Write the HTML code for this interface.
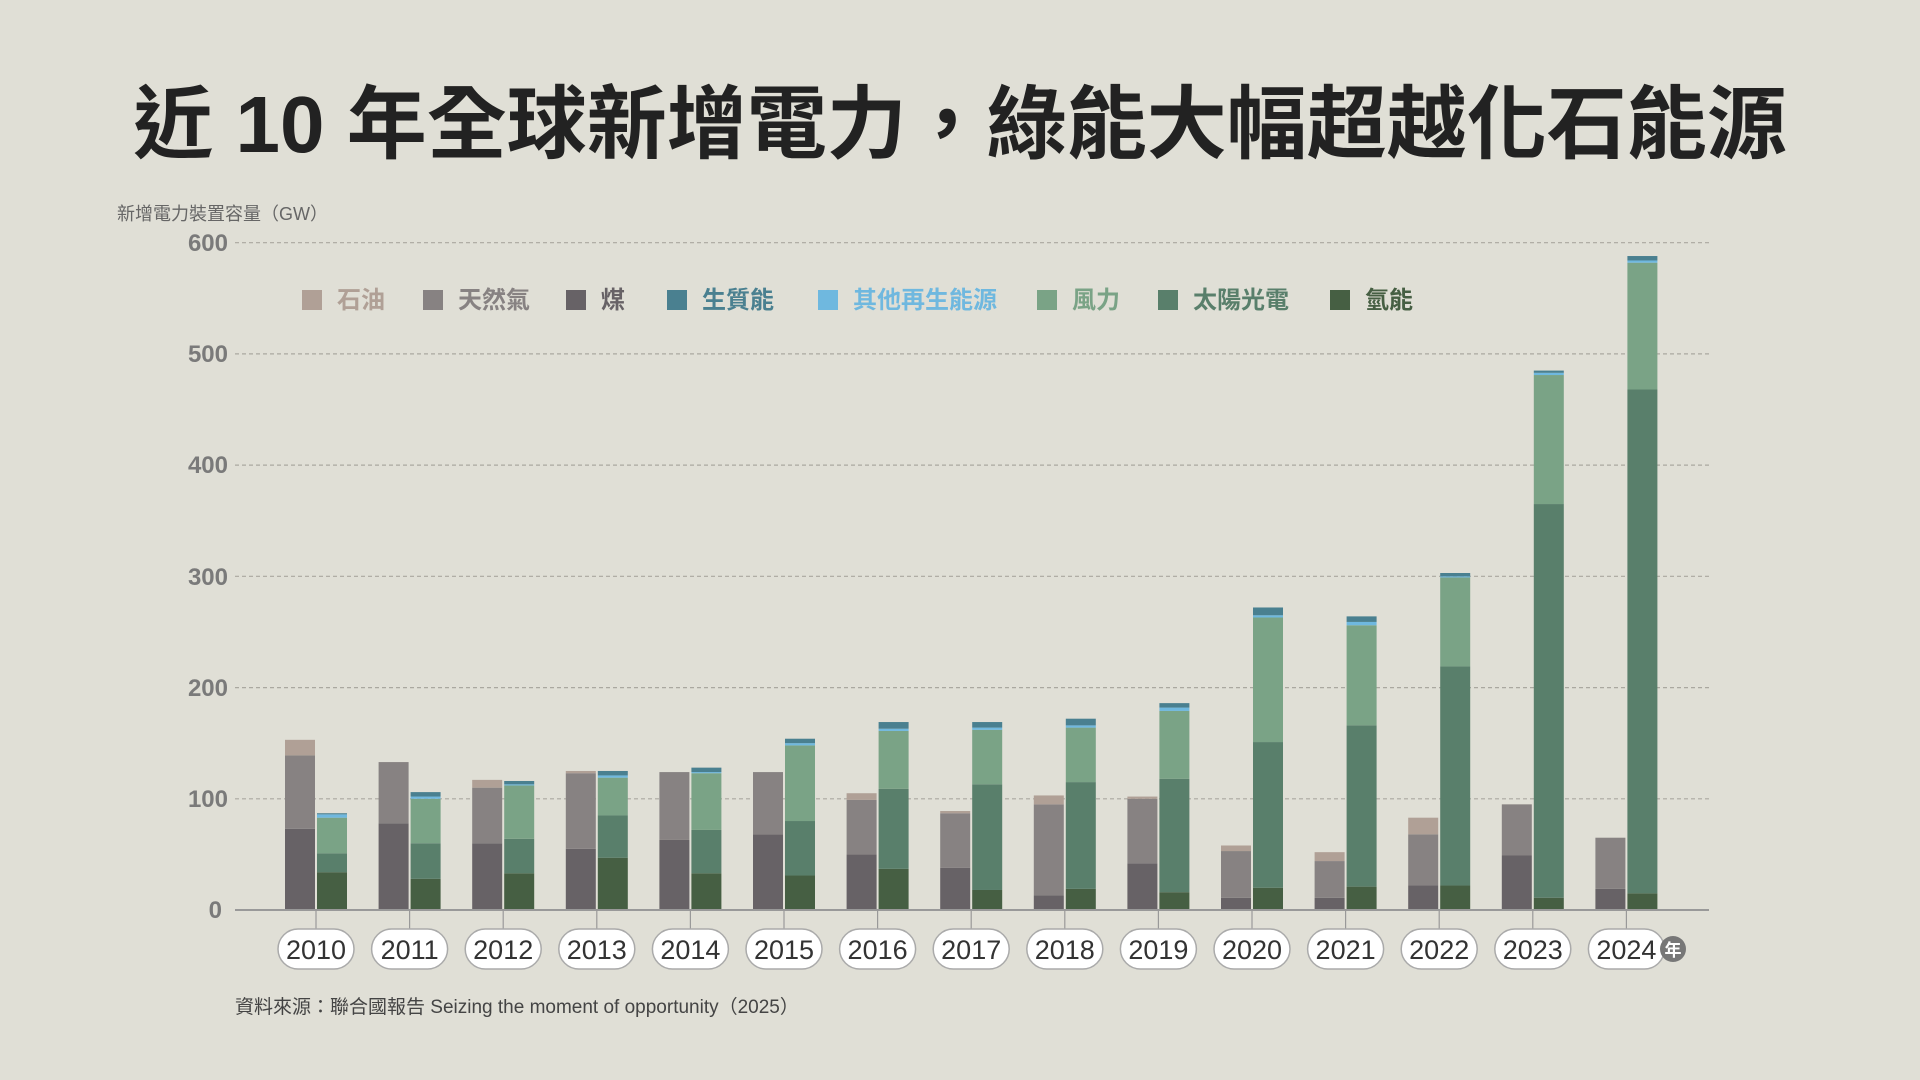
<!DOCTYPE html>
<html><head><meta charset="utf-8"><style>
html,body{margin:0;padding:0;background:#e0dfd6;}
svg{display:block;font-family:"Liberation Sans","Noto Sans CJK TC",sans-serif;}
</style></head><body>
<svg id="s" width="1920" height="1080" viewBox="0 0 1920 1080" xmlns="http://www.w3.org/2000/svg">
<rect width="1920" height="1080" fill="#e0dfd6"/>
<text x="960" y="152" text-anchor="middle" font-size="80" font-weight="bold" fill="#222">近 10 年全球新增電力，綠能大幅超越化石能源</text>
<text x="117" y="220" font-size="18" fill="#666">新增電力裝置容量（GW）</text>
<g stroke="#aaa8a0" stroke-width="1.2" stroke-dasharray="4,3">
<line x1="235" x2="1709" y1="242.7" y2="242.7"/>
<line x1="235" x2="1709" y1="353.9" y2="353.9"/>
<line x1="235" x2="1709" y1="465.1" y2="465.1"/>
<line x1="235" x2="1709" y1="576.3" y2="576.3"/>
<line x1="235" x2="1709" y1="687.6" y2="687.6"/>
<line x1="235" x2="1709" y1="798.8" y2="798.8"/>
</g>
<g font-size="24" font-weight="bold" fill="#7a7a7a" text-anchor="end">
<text x="228" y="251">600</text><text x="228" y="362">500</text><text x="228" y="473">400</text>
<text x="228" y="585">300</text><text x="228" y="696">200</text><text x="228" y="807">100</text><text x="222" y="918">0</text>
</g>
<g font-size="24" font-weight="bold">
<rect x="302" y="290" width="20" height="20" fill="#b0a096"/><text x="337" y="308" fill="#b0a096">石油</text>
<rect x="423" y="290" width="20" height="20" fill="#878282"/><text x="458" y="308" fill="#878282">天然氣</text>
<rect x="566" y="290" width="20" height="20" fill="#676266"/><text x="601" y="308" fill="#676266">煤</text>
<rect x="667" y="290" width="20" height="20" fill="#4a8090"/><text x="702" y="308" fill="#4a8090">生質能</text>
<rect x="818" y="290" width="20" height="20" fill="#6fb8df"/><text x="853" y="308" fill="#6fb8df">其他再生能源</text>
<rect x="1037" y="290" width="20" height="20" fill="#7aa386"/><text x="1072" y="308" fill="#7aa386">風力</text>
<rect x="1158" y="290" width="20" height="20" fill="#597f6b"/><text x="1193" y="308" fill="#597f6b">太陽光電</text>
<rect x="1330" y="290" width="20" height="20" fill="#465f43"/><text x="1365" y="308" fill="#465f43">氫能</text>
</g>
<g id="bars"></g>
<line x1="235" x2="1709" y1="910" y2="910" stroke="#999" stroke-width="2"/>
<g id="ticks" stroke="#999" stroke-width="1.2"></g>
<g id="pills" fill="#fff" stroke="#aaa" stroke-width="1.5"></g>
<g font-size="27" fill="#333" text-anchor="middle">
<text x="316" y="959">2010</text><text x="409.6" y="959">2011</text><text x="503.2" y="959">2012</text>
<text x="596.8" y="959">2013</text><text x="690.4" y="959">2014</text><text x="784" y="959">2015</text>
<text x="877.6" y="959">2016</text><text x="971.2" y="959">2017</text><text x="1064.8" y="959">2018</text>
<text x="1158.4" y="959">2019</text><text x="1252" y="959">2020</text><text x="1345.6" y="959">2021</text>
<text x="1439.2" y="959">2022</text><text x="1532.8" y="959">2023</text><text x="1626.4" y="959">2024</text>
</g>
<circle cx="1673" cy="949" r="13" fill="#777"/>
<text x="1673" y="956" font-size="17" font-weight="bold" fill="#fff" text-anchor="middle">年</text>
<text x="235" y="1013" font-size="19" fill="#444">資料來源：聯合國報告 Seizing the moment of opportunity（2025）</text>
</svg>
<script>
var L=[[73,139,153],[78,133,133],[60,110,117],[55,123,125],[63,124,124],[68,124,124],[50,99,105],[38,87,89],[13,95,103],[42,100,102],[11,53,58],[11,44,52],[22,68,83],[49,95,95],[19,65,65]];
var R=[[34,51,83,86,87],[28,60,100,102,106],[33,64,112,113,116],[47,85,119,121,125],[33,72,123,124,128],[31,80,148,150,154],[37,109,161,163,169],[18,113,162,164,169],[19,115,164,166,172],[16,118,179,182,186],[20,151,263,265,272],[21,166,256,259,264],[22,219,299,300,303],[11,365,481,483,485],[15,468,582,584,588]];
var lc=["#676266","#878282","#b0a096"],rc=["#465f43","#597f6b","#7aa386","#6fb8df","#4a8090"];
var ns="http://www.w3.org/2000/svg",b=document.getElementById("bars"),t=document.getElementById("ticks"),p=document.getElementById("pills");
function y(v){return 910-v*1.1122;}
function r(g,x,v0,v1,c){if(v1<=v0)return;var e=document.createElementNS(ns,"rect");e.setAttribute("x",x);e.setAttribute("width",30);e.setAttribute("y",y(v1));e.setAttribute("height",y(v0)-y(v1));e.setAttribute("fill",c);g.appendChild(e);}
for(var i=0;i<15;i++){var cx=316+i*93.6,pv=0;
for(var j=0;j<3;j++){r(b,cx-31,pv,L[i][j],lc[j]);pv=Math.max(pv,L[i][j]);}
pv=0;for(j=0;j<5;j++){r(b,cx+1,pv,R[i][j],rc[j]);pv=Math.max(pv,R[i][j]);}
var l=document.createElementNS(ns,"line");l.setAttribute("x1",cx);l.setAttribute("x2",cx);l.setAttribute("y1",910);l.setAttribute("y2",930);t.appendChild(l);
var q=document.createElementNS(ns,"rect");q.setAttribute("x",cx-38);q.setAttribute("y",929);q.setAttribute("width",76);q.setAttribute("height",40);q.setAttribute("rx",20);p.appendChild(q);}
</script>
</body></html>
